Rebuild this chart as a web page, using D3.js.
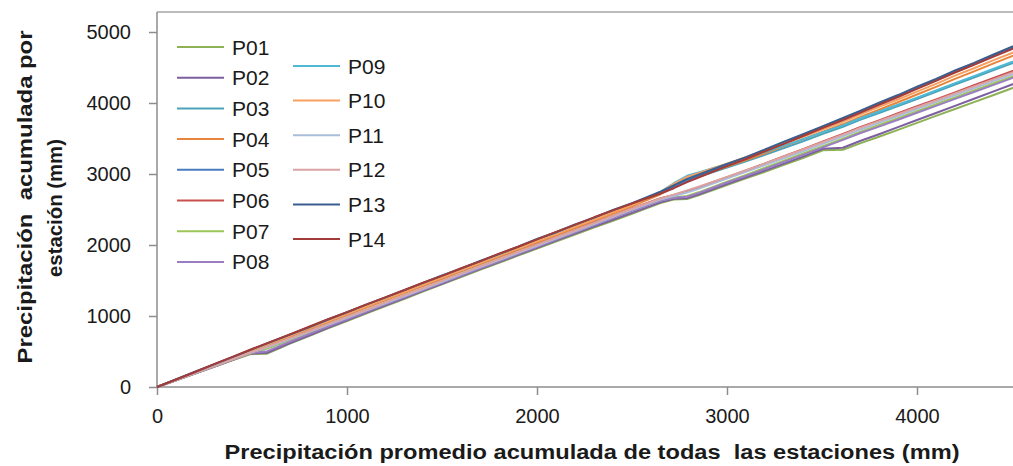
<!DOCTYPE html>
<html>
<head>
<meta charset="utf-8">
<script src="https://cdn.jsdelivr.net/npm/d3@7"></script>
<style>
  html, body { margin: 0; padding: 0; background: #fff; overflow: hidden; }
  svg { display: block; }
  text { font-family: "Liberation Sans", Arial, sans-serif; fill: #1a1a1a; }
</style>
</head>
<body>
<svg id="chart" width="1013" height="466"></svg>
<script>
// Precipitación promedio acumulada (eje X, mm)
const promedio = [0, 100, 200, 300, 400, 490, 580, 700, 800, 900, 1000, 1100, 1200, 1300, 1400, 1500,
  1600, 1700, 1800, 1900, 2000, 2100, 2200, 2300, 2400, 2500, 2650, 2720, 2790, 2850, 3000, 3100,
  3200, 3300, 3400, 3505, 3610, 3700, 3800, 3900, 4000, 4100, 4200, 4300, 4400, 4500, 4600];

// Precipitación acumulada por estación (mm)
const P01 = [0, 93, 188, 284, 380, 462, 470, 610, 718, 825, 930, 1035, 1138, 1240, 1344, 1445, 1548, 1650, 1750, 1850, 1950, 2050, 2148, 2245, 2342, 2440, 2590, 2640, 2648, 2700, 2845, 2938, 3030, 3128, 3225, 3335, 3342, 3432, 3525, 3622, 3720, 3818, 3915, 4012, 4110, 4208, 4305];
const P02 = [0, 94, 190, 286, 383, 470, 482, 618, 725, 832, 940, 1045, 1148, 1250, 1354, 1455, 1558, 1660, 1760, 1862, 1962, 2062, 2160, 2258, 2356, 2452, 2600, 2652, 2660, 2712, 2860, 2954, 3048, 3146, 3245, 3355, 3370, 3465, 3560, 3660, 3760, 3860, 3960, 4060, 4160, 4260, 4360];
const P03 = [0, 100, 204, 305, 408, 500, 595, 715, 815, 918, 1020, 1120, 1224, 1325, 1426, 1528, 1630, 1732, 1832, 1935, 2036, 2140, 2242, 2345, 2450, 2555, 2725, 2820, 2910, 2960, 3090, 3180, 3270, 3366, 3460, 3565, 3665, 3762, 3860, 3956, 4055, 4158, 4260, 4358, 4460, 4558, 4660];
const P04 = [0, 98, 200, 302, 405, 495, 590, 710, 812, 915, 1018, 1118, 1222, 1322, 1426, 1525, 1628, 1730, 1832, 1932, 2036, 2135, 2240, 2340, 2444, 2545, 2715, 2815, 2915, 2970, 3105, 3196, 3290, 3392, 3490, 3595, 3700, 3800, 3905, 4010, 4120, 4228, 4340, 4445, 4555, 4660, 4765];
const P05 = [0, 104, 210, 316, 420, 515, 610, 735, 838, 945, 1046, 1150, 1255, 1355, 1462, 1560, 1664, 1765, 1870, 1965, 2072, 2170, 2278, 2375, 2482, 2580, 2735, 2820, 2910, 2975, 3130, 3232, 3335, 3446, 3550, 3665, 3775, 3880, 3990, 4105, 4215, 4325, 4445, 4550, 4665, 4776, 4880];
const P06 = [0, 96, 195, 292, 390, 478, 565, 680, 782, 880, 982, 1080, 1185, 1285, 1386, 1490, 1590, 1695, 1796, 1900, 2000, 2105, 2206, 2310, 2410, 2515, 2660, 2705, 2760, 2810, 2955, 3050, 3150, 3252, 3350, 3460, 3565, 3660, 3755, 3855, 3955, 4050, 4150, 4250, 4350, 4448, 4545];
const P07 = [0, 95, 192, 288, 385, 470, 540, 662, 762, 865, 966, 1068, 1170, 1272, 1372, 1476, 1578, 1680, 1778, 1880, 1980, 2082, 2182, 2285, 2384, 2488, 2628, 2668, 2692, 2742, 2892, 2988, 3088, 3186, 3288, 3392, 3497, 3592, 3690, 3786, 3885, 3982, 4080, 4176, 4275, 4372, 4470];
const P08 = [0, 96, 194, 290, 388, 475, 505, 640, 745, 850, 955, 1058, 1160, 1262, 1366, 1468, 1570, 1672, 1772, 1875, 1976, 2078, 2178, 2280, 2380, 2480, 2622, 2665, 2680, 2730, 2880, 2974, 3070, 3170, 3270, 3375, 3480, 3574, 3668, 3764, 3862, 3960, 4058, 4154, 4252, 4350, 4448];
const P09 = [0, 105, 208, 312, 415, 510, 605, 725, 830, 930, 1034, 1135, 1240, 1340, 1445, 1545, 1648, 1750, 1855, 1955, 2060, 2160, 2264, 2365, 2472, 2575, 2750, 2870, 2975, 3020, 3140, 3225, 3310, 3400, 3490, 3590, 3685, 3782, 3880, 3976, 4075, 4176, 4280, 4378, 4480, 4578, 4680];
const P10 = [0, 102, 205, 306, 410, 505, 600, 720, 826, 925, 1030, 1130, 1236, 1335, 1440, 1540, 1645, 1745, 1850, 1950, 2052, 2150, 2256, 2355, 2462, 2560, 2740, 2860, 2960, 3010, 3145, 3236, 3330, 3428, 3525, 3630, 3735, 3836, 3945, 4050, 4160, 4270, 4385, 4490, 4600, 4705, 4810];
const P11 = [0, 97, 196, 294, 392, 480, 560, 675, 776, 875, 976, 1075, 1178, 1278, 1380, 1482, 1586, 1688, 1788, 1890, 1990, 2092, 2192, 2295, 2396, 2498, 2640, 2690, 2740, 2790, 2935, 3030, 3125, 3222, 3320, 3425, 3530, 3624, 3720, 3816, 3915, 4012, 4110, 4206, 4305, 4402, 4500];
const P12 = [0, 99, 198, 296, 395, 482, 568, 685, 786, 885, 988, 1085, 1188, 1290, 1390, 1495, 1596, 1700, 1800, 1902, 2002, 2105, 2204, 2308, 2408, 2510, 2655, 2710, 2770, 2820, 2960, 3052, 3150, 3246, 3345, 3450, 3555, 3650, 3745, 3842, 3940, 4036, 4135, 4232, 4330, 4428, 4525];
const P13 = [0, 108, 215, 318, 425, 520, 615, 740, 842, 950, 1052, 1160, 1258, 1365, 1466, 1570, 1668, 1775, 1872, 1975, 2085, 2180, 2290, 2385, 2495, 2590, 2750, 2840, 2930, 2990, 3140, 3238, 3345, 3455, 3560, 3675, 3790, 3890, 4005, 4112, 4230, 4340, 4460, 4565, 4680, 4792, 4900];
const P14 = [0, 106, 212, 322, 428, 525, 618, 742, 848, 955, 1055, 1160, 1262, 1362, 1468, 1565, 1672, 1770, 1878, 1975, 2080, 2185, 2284, 2390, 2488, 2585, 2725, 2800, 2885, 2950, 3110, 3212, 3320, 3425, 3535, 3650, 3760, 3862, 3975, 4085, 4200, 4312, 4430, 4538, 4650, 4758, 4865];

const stationNames = ["P01", "P02", "P03", "P04", "P05", "P06", "P07", "P08", "P09", "P10", "P11", "P12", "P13", "P14"];
const stationValues = [P01, P02, P03, P04, P05, P06, P07, P08, P09, P10, P11, P12, P13, P14];
const stationColors = ["#8db255", "#7d5f9f", "#4aa3b8", "#e8843c", "#4a7cc0", "#c9514d", "#9cc65a",
  "#9a7ec0", "#4fb8d5", "#f7a060", "#aabdd9", "#dca3a3", "#3a5f8f", "#a33b38"];

const xTicks = [0, 1000, 2000, 3000, 4000];
const yTicks = [0, 1000, 2000, 3000, 4000, 5000];

const xTitle = "Precipitación promedio acumulada de todas  las estaciones (mm)";
const yTitle = ["Precipitación  acumulada por", "estación (mm)"];

const svg = d3.select("#chart");

const x = d3.scaleLinear().domain([0, 5000]).range([157, 1107]);
const y = d3.scaleLinear().domain([0, 5000]).range([387, 32]);
const plotTop = 12;

// plot area frame (top edge) and axes
svg.append("line")
  .attr("x1", 157).attr("x2", 1013).attr("y1", plotTop).attr("y2", plotTop)
  .attr("stroke", "#a6a6a6").attr("stroke-width", 1.3);

const yAxis = svg.append("g").attr("transform", "translate(157,0)")
  .call(d3.axisLeft(y).tickValues(yTicks).tickSize(8).tickPadding(18).tickFormat(d3.format("d")));
yAxis.select(".domain").attr("d", `M0,${plotTop}V387`);

const xAxis = svg.append("g").attr("transform", "translate(0,387)")
  .call(d3.axisBottom(x).tickValues(xTicks).tickSize(8).tickPadding(14).tickFormat(d3.format("d")));
xAxis.select(".domain").attr("d", "M157,0H1013");

svg.selectAll(".domain").attr("stroke", "#8c8c8c").attr("stroke-width", 1.5);
svg.selectAll(".tick line").attr("stroke", "#8c8c8c").attr("stroke-width", 1.5);
svg.selectAll(".tick text")
  .attr("font-family", "'Liberation Sans', Arial, sans-serif")
  .attr("font-size", 20).attr("fill", "#1f1f1f");

// station lines
const line = d3.line().x((d, i) => x(promedio[i])).y(d => y(d));
svg.append("g").selectAll("path")
  .data(stationValues)
  .join("path")
  .attr("d", d => line(d))
  .attr("fill", "none")
  .attr("stroke", (d, i) => stationColors[i])
  .attr("stroke-width", 2)
  .attr("stroke-linejoin", "round");

// legend: two columns
const legend = svg.append("g");
stationNames.forEach((name, i) => {
  const left = i < 8;
  const lx = left ? 177 : 293;
  const ly = left ? 47 + i * 30.7 : 66 + (i - 8) * 34.6;
  legend.append("line")
    .attr("x1", lx).attr("x2", lx + 47).attr("y1", ly).attr("y2", ly)
    .attr("stroke", stationColors[i]).attr("stroke-width", 2);
  legend.append("text")
    .attr("x", lx + 55).attr("y", ly)
    .attr("dominant-baseline", "central")
    .attr("font-size", 21)
    .text(name);
});

// axis titles (start-anchored, fitted to a fixed length)
function fittedText(parent, txt, cx, cy, len) {
  return parent.append("text")
    .attr("x", cx - len / 2).attr("y", cy)
    .attr("dominant-baseline", "central")
    .attr("font-size", 20).attr("font-weight", "bold")
    .attr("textLength", len).attr("lengthAdjust", "spacingAndGlyphs")
    .style("white-space", "pre")
    .text(txt);
}

fittedText(svg, xTitle, 592, 452, 735);

const yt = svg.append("g").attr("transform", "rotate(-90)");
fittedText(yt, yTitle[0], -197, 25, 333);
fittedText(yt, yTitle[1], -208, 55, 138);
</script>
</body>
</html>
